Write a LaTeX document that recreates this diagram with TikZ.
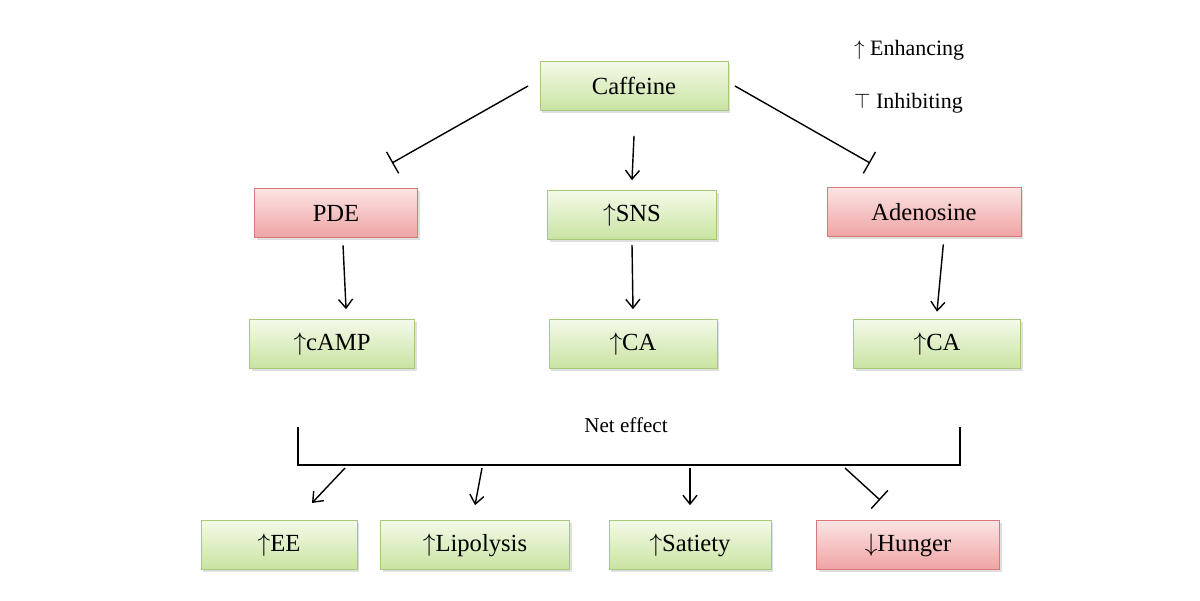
\documentclass[tikz,border=0pt]{standalone}
\usepackage{fontspec}
\setmainfont{Liberation Serif}
\usetikzlibrary{arrows.meta,shadows}
\definecolor{gtop}{HTML}{F4FAE8}
\definecolor{gbot}{HTML}{C9E3A2}
\definecolor{gline}{HTML}{A5C87A}
\definecolor{rtop}{HTML}{FCE4E4}
\definecolor{rbot}{HTML}{EFA3A3}
\definecolor{rline}{HTML}{D9787A}
\tikzset{
  gbox/.style={draw=gline, top color=gtop, bottom color=gbot, minimum height=0.98cm, inner sep=0pt, font=\fontsize{14}{16}\selectfont, drop shadow={opacity=0.25, shadow xshift=1.2pt, shadow yshift=-1.2pt}},
  rbox/.style={gbox, draw=rline, top color=rtop, bottom color=rbot},
  up/.style={-{Straight Barb[length=5pt,width=8pt]}, thick},
  inh/.style={-{Bar[width=14pt]}, thick}
}
\begin{document}
\begin{tikzpicture}[x=0.02cm, y=-0.02cm]
    \useasboundingbox (0,0) rectangle (1200,600);
    \node[gbox, minimum width=3.76cm] (caf) at (634,86) {Caffeine};
    \node[rbox, minimum width=3.26cm] (pde) at (336,213) {PDE};
    \node[gbox, minimum width=3.38cm] (sns) at (632,215) {$\uparrow$SNS};
    \node[rbox, minimum width=3.88cm] (ade) at (924,212) {Adenosine};
    \node[gbox, minimum width=3.3cm] (camp) at (332,344) {$\uparrow$cAMP};
    \node[gbox, minimum width=3.36cm] (ca1) at (633,344) {$\uparrow$CA};
    \node[gbox, minimum width=3.34cm] (ca2) at (937,344) {$\uparrow$CA};
    \node[gbox, minimum width=3.12cm] (ee) at (279,545) {$\uparrow$EE};
    \node[gbox, minimum width=3.78cm] (lip) at (475,545) {$\uparrow$Lipolysis};
    \node[gbox, minimum width=3.24cm] (sat) at (690,545) {$\uparrow$Satiety};
    \node[rbox, minimum width=3.66cm] (hun) at (908,545) {$\downarrow$Hunger};

    \node[font=\fontsize{12}{14}\selectfont] (net) at (626,425) {Net effect};
    \node[anchor=west, font=\fontsize{12.5}{14}\selectfont] (enh) at (848,50) {$\uparrow$ Enhancing};
    \node[anchor=west, font=\fontsize{12.5}{14}\selectfont] (inb) at (848,103) {$\top$ Inhibiting};

    \coordinate (cl) at (528,86);
    \coordinate (cr) at (735,86);
    \coordinate (bl) at (392,163);
    \coordinate (br) at (870,163);
    \draw[inh] (cl) -- (bl);
    \draw[inh] (cr) -- (br);
    \draw[up] ([yshift=-0.5cm]caf.south) -- ([yshift=0.2cm]sns.north);
    \draw[up] ([xshift=4pt,yshift=-0.15cm]pde.south) -- ([xshift=8pt,yshift=0.2cm]camp.north);
    \draw[up] ([yshift=-0.1cm]sns.south) -- ([yshift=0.2cm]ca1.north);
    \draw[up] ([xshift=11pt,yshift=-0.15cm]ade.south) -- ([yshift=0.15cm]ca2.north);

    % net effect bracket
    \coordinate (n1) at (298,427);
    \coordinate (n2) at (298,465);
    \coordinate (n3) at (960,465);
    \coordinate (n4) at (960,427);
    \draw[thick] (n1) -- (n2) -- (n3) -- (n4);
    \coordinate (a1) at (345,468);
    \coordinate (a2) at (482,468);
    \coordinate (a3) at (690,468);
    \coordinate (a4) at (845,468);
    \coordinate (e1) at (312,503);
    \coordinate (e4) at (880,500);
    \draw[up] (a1) -- (e1);
    \draw[up] (a2) -- ([yshift=0.3cm]lip.north);
    \draw[up] (a3) -- ([yshift=0.3cm]sat.north);
    \draw[inh] (a4) -- (e4);
\end{tikzpicture}
\end{document}
